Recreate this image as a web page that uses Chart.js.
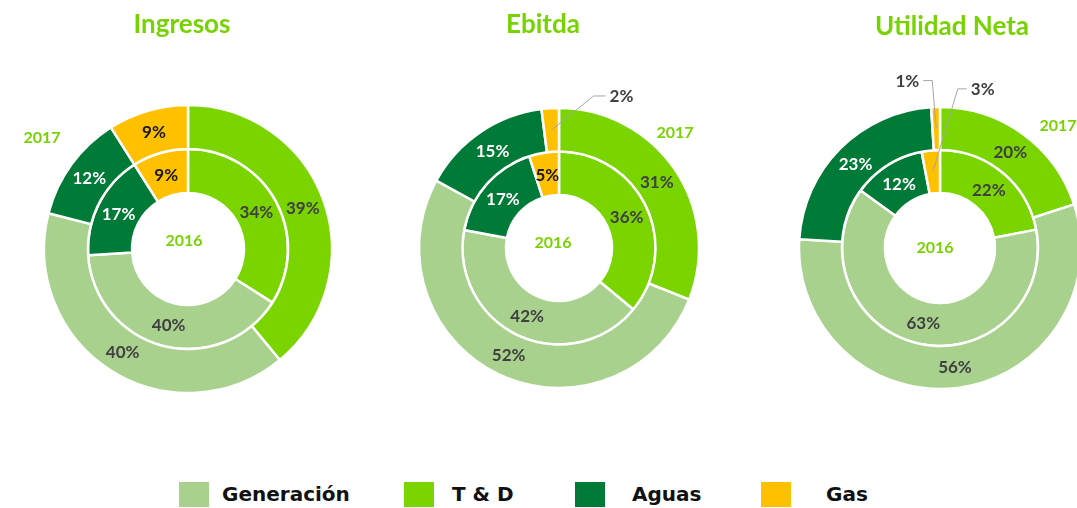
<!DOCTYPE html>
<html>
<head>
<meta charset="utf-8">
<script src="https://cdn.jsdelivr.net/npm/chart.js@4.4.1/dist/chart.umd.min.js"></script>
<style>
  html, body { margin:0; padding:0; background:#fff; }
  body { width:1077px; height:508px; overflow:hidden; position:relative; font-family: Lato, "Open Sans", sans-serif; }
  canvas { position:absolute; top:0; }
  .title { position:absolute; font-weight:bold; font-size:26px; line-height:30px; color:#77D300; transform:translateX(-50%); white-space:nowrap; }
  .yr { position:absolute; font-weight:bold; font-size:16px; line-height:20px; color:#77D300; transform:translate(-50%,-50%); white-space:nowrap; }
  .lbox { position:absolute; width:30px; height:25px; }
  .ltxt { position:absolute; font-family:"DejaVu Sans", sans-serif; font-weight:bold; font-size:20px; line-height:24px; color:#111; white-space:nowrap; }
</style>
</head>
<body>
<canvas id="c1" width="360" height="440" style="left:0px"></canvas>
<canvas id="c2" width="360" height="440" style="left:360px"></canvas>
<canvas id="c3" width="357" height="440" style="left:720px"></canvas>
<div id="texts"></div>
<script>
// ---- data (drawing order: clockwise from 12 o'clock) ----
const categories = ["T & D", "Generación", "Aguas", "Gas"];
const legendOrder = ["Generación", "T & D", "Aguas", "Gas"];
const years = ["2017", "2016"];           // outer ring, inner ring
const titles = ["Ingresos", "Ebitda", "Utilidad Neta"];
const ingresos2017 = [39, 40, 12, 9];
const ingresos2016 = [34, 40, 17, 9];
const ebitda2017 = [31, 52, 15, 2];
const ebitda2016 = [36, 42, 17, 5];
const utilidad2017 = [20, 56, 23, 1];
const utilidad2016 = [22, 63, 12, 3];

// ---- styles ----
const colorOf = { "T & D": "#7AD400", "Generación": "#A9D18E", "Aguas": "#007A37", "Gas": "#FFC000" };
const labelColorOf = { "T & D": "#404040", "Generación": "#404040", "Aguas": "#ffffff", "Gas": "#1a1a1a" };

function labelPlugin(callouts) {
  return {
    id: 'ringLabels',
    afterDatasetsDraw(chart) {
      const ctx = chart.ctx;
      chart.data.datasets.forEach((ds, di) => {
        const meta = chart.getDatasetMeta(di);
        meta.data.forEach((arc, i) => {
          const p = arc.tooltipPosition();
          const text = ds.data[i] + '%';
          const c = callouts.find(o => o.d === di && o.i === i);
          ctx.save();
          ctx.font = 'bold 17px Lato';
          ctx.textBaseline = 'middle';
          if (c) {
            const ex = p.x + c.dx, ey = p.y + c.dy, hx = ex + c.h;
            ctx.strokeStyle = '#a6a6a6';
            ctx.lineWidth = 1;
            ctx.beginPath();
            ctx.moveTo(p.x, p.y); ctx.lineTo(ex, ey); ctx.lineTo(hx, ey);
            ctx.stroke();
            ctx.fillStyle = '#404040';
            ctx.textAlign = c.h >= 0 ? 'left' : 'right';
            ctx.fillText(text, hx + (c.h >= 0 ? 4 : -4), ey + 1);
          } else {
            ctx.fillStyle = labelColorOf[categories[i]];
            ctx.textAlign = 'center';
            ctx.fillText(text, p.x, p.y + 1);
          }
          ctx.restore();
        });
      });
    }
  };
}

function makeChart(id, outer, inner, r, hole, pad, callouts) {
  const bg = categories.map(c => colorOf[c]);
  return new Chart(document.getElementById(id), {
    type: 'doughnut',
    data: {
      labels: categories,
      datasets: [
        { label: years[0], data: outer, backgroundColor: bg, borderColor: '#ffffff', borderWidth: 2.5 },
        { label: years[1], data: inner, backgroundColor: bg, borderColor: '#ffffff', borderWidth: 2.5 }
      ]
    },
    options: {
      responsive: false,
      animation: false,
      radius: r,
      cutout: (hole / r * 100) + '%',
      layout: { padding: pad },
      plugins: { legend: { display: false }, tooltip: { enabled: false } }
    },
    plugins: [labelPlugin(callouts)]
  });
}

makeChart('c1', ingresos2017, ingresos2016, 144, 56, { left: 16, top: 58, right: 0, bottom: 0 }, []);
makeChart('c2', ebitda2017, ebitda2016, 140, 53, { left: 38, top: 56, right: 0, bottom: 0 },
  [{ d: 0, i: 3, dx: 42, dy: -34, h: 12 }]);
makeChart('c3', utilidad2017, utilidad2016, 141, 55, { left: 83, top: 56, right: 0, bottom: 0 },
  [{ d: 0, i: 3, dx: -4, dy: -48, h: -9 }, { d: 1, i: 3, dx: 25, dy: -83, h: 9 }]);

// ---- HTML text: titles, ring year labels, legend ----
const texts = document.getElementById('texts');
function add(cls, txt, x, y, extra) {
  const el = document.createElement('div');
  el.className = cls;
  el.textContent = txt;
  el.style.left = x + 'px';
  el.style.top = y + 'px';
  if (extra) Object.assign(el.style, extra);
  texts.appendChild(el);
  return el;
}
const titlePos = [[182, 8], [543, 8], [952, 10]];
titles.forEach((t, k) => add('title', t, titlePos[k][0], titlePos[k][1]));
const outerYearPos = [[42, 137], [675, 132], [1058, 125]];
const innerYearPos = [[184, 240], [553, 242], [935, 247]];
outerYearPos.forEach(p => add('yr', years[0], p[0], p[1]));
innerYearPos.forEach(p => add('yr', years[1], p[0], p[1]));
const legBoxX = [179, 404, 575, 761];
const legTxtX = [222, 452, 632, 826];
legendOrder.forEach((name, k) => {
  const b = add('lbox', '', legBoxX[k], 482);
  b.style.background = colorOf[name];
  add('ltxt', name, legTxtX[k], 482);
});
</script>
</body>
</html>
